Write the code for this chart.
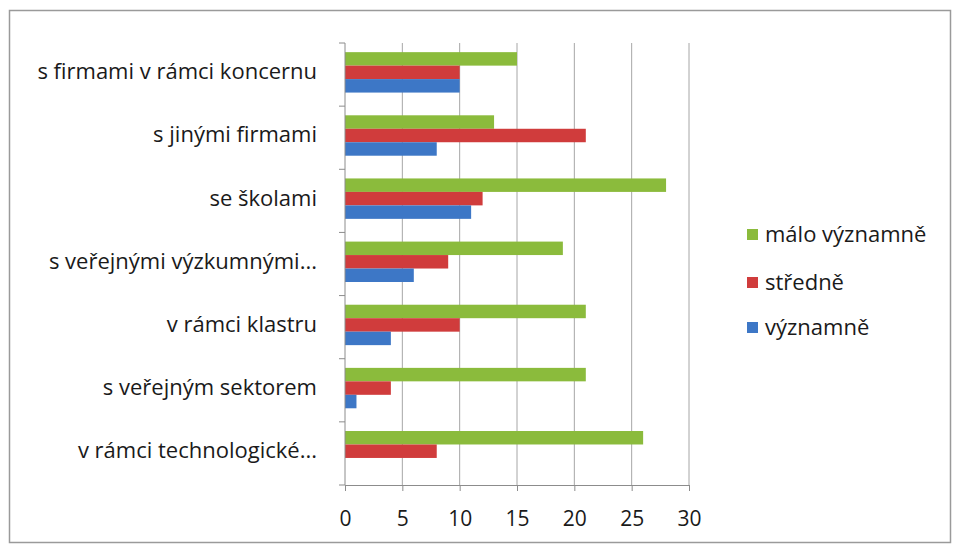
<!DOCTYPE html>
<html>
<head>
<meta charset="utf-8">
<script src="https://cdn.jsdelivr.net/npm/d3@7"></script>
<style>
  body { margin: 0; background: #fff; }
  svg text { font-family: 'Open Sans', sans-serif; fill: #1a1a1a; }
</style>
</head>
<body>
<div id="container"></div>
<script>
const categories = [
  's firmami v rámci koncernu',
  's jinými firmami',
  'se školami',
  's veřejnými výzkumnými...',
  'v rámci klastru',
  's veřejným sektorem',
  'v rámci technologické...'
];
const seriesNames = ['málo významně', 'středně', 'významně'];
const maloVyznamne = [15, 13, 28, 19, 21, 21, 26];
const stredne = [10, 21, 12, 9, 10, 4, 8];
const vyznamne = [10, 8, 11, 6, 4, 1, 0];
const xTicks = [0, 5, 10, 15, 20, 25, 30];

const colors = ['#8bbb3c', '#d03c3c', '#3d77c6'];
const seriesValues = [maloVyznamne, stredne, vyznamne];

const svgWidth = 957;
const svgHeight = 546;
const plot = { left: 345, right: 689, top: 43, bottom: 485 };

const svg = d3
  .select('#container')
  .append('svg')
  .attr('width', svgWidth)
  .attr('height', svgHeight);

// frame
svg
  .append('rect')
  .attr('x', 9.5)
  .attr('y', 10.5)
  .attr('width', 941)
  .attr('height', 532)
  .attr('fill', '#fff')
  .attr('stroke', '#9a9a9a')
  .attr('stroke-width', 1.5);

const xScale = d3
  .scaleLinear()
  .domain([0, 30])
  .range([plot.left, plot.right]);

const yScale = d3
  .scaleBand()
  .domain(categories)
  .range([plot.top, plot.bottom]);

// bars sit a bit above the band centre, like the original
const inner = d3
  .scaleBand()
  .domain(seriesNames)
  .range([yScale.step() * 0.145, yScale.step() * 0.785]);

// grid lines
svg
  .append('g')
  .selectAll('line')
  .data(xTicks.slice(1))
  .enter()
  .append('line')
  .attr('x1', d => xScale(d))
  .attr('x2', d => xScale(d))
  .attr('y1', plot.top)
  .attr('y2', plot.bottom)
  .attr('stroke', '#a6a6a6')
  .attr('stroke-width', 1);

// bars
seriesNames.forEach((name, s) => {
  svg
    .append('g')
    .selectAll('rect')
    .data(seriesValues[s])
    .enter()
    .append('rect')
    .attr('x', xScale(0))
    .attr('y', (d, i) => yScale(categories[i]) + inner(name))
    .attr('width', d => xScale(d) - xScale(0))
    .attr('height', inner.bandwidth())
    .attr('fill', colors[s]);
});

// x axis
const xAxis = d3
  .axisBottom(xScale)
  .tickValues(xTicks)
  .tickSize(6)
  .tickSizeOuter(0)
  .tickPadding(20);

const gx = svg
  .append('g')
  .attr('transform', `translate(0,${plot.bottom})`)
  .call(xAxis);
gx.select('.domain').attr('stroke', '#8c8c8c');
gx.selectAll('.tick line').attr('stroke', '#8c8c8c');
gx.selectAll('.tick text')
  .style('font-size', '21px')
  .style('font-family', "'Open Sans', sans-serif")
  .attr('fill', '#1a1a1a');

// y axis line with ticks at band boundaries
const gy = svg.append('g');
gy.append('line')
  .attr('x1', plot.left)
  .attr('x2', plot.left)
  .attr('y1', plot.top)
  .attr('y2', plot.bottom)
  .attr('stroke', '#8c8c8c');
const bounds = categories.map(c => yScale(c)).concat([plot.bottom]);
gy.selectAll('.yt')
  .data(bounds)
  .enter()
  .append('line')
  .attr('x1', plot.left - 6)
  .attr('x2', plot.left)
  .attr('y1', d => d)
  .attr('y2', d => d)
  .attr('stroke', '#8c8c8c');

// category labels
gy.selectAll('text')
  .data(categories)
  .enter()
  .append('text')
  .attr('x', 317)
  .attr('y', d => yScale(d) + yScale.bandwidth() / 2 - 3)
  .attr('dy', '0.35em')
  .attr('text-anchor', 'end')
  .style('font-size', '22px')
  .text(d => d);

// legend
const legend = svg.append('g');
const legendY = [234, 282, 327];
seriesNames.forEach((name, s) => {
  legend
    .append('rect')
    .attr('x', 747)
    .attr('y', legendY[s] - 5)
    .attr('width', 11)
    .attr('height', 11)
    .attr('fill', colors[s]);
  legend
    .append('text')
    .attr('x', 765)
    .attr('y', legendY[s])
    .attr('dy', '0.35em')
    .style('font-size', '22px')
    .text(name);
});
</script>
</body>
</html>
